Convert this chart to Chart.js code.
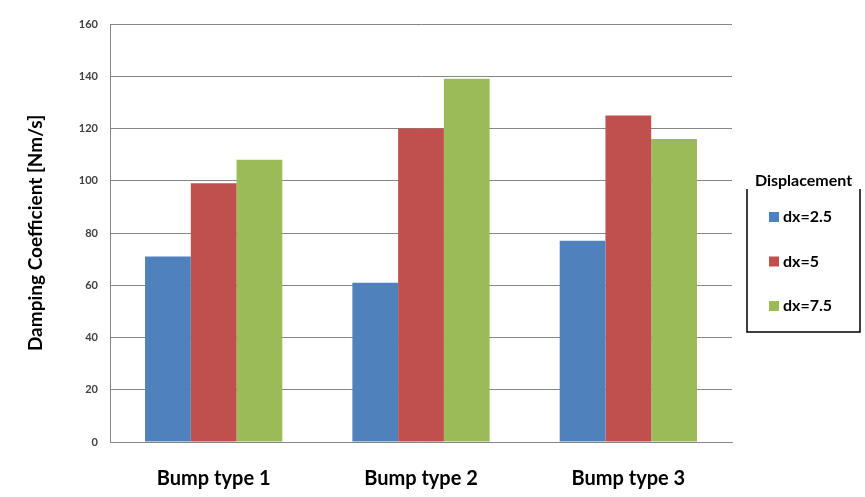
<!DOCTYPE html>
<html>
<head>
<meta charset="utf-8">
<script src="https://cdn.jsdelivr.net/npm/chart.js@4"></script>
<style>
  html, body { margin: 0; padding: 0; background: #fff; }
  #wrap { width: 865px; height: 497px; }
</style>
</head>
<body>
<div id="wrap"><canvas id="grafico" width="865" height="497"></canvas></div>
<script>
// data
const categorias = ["Bump type 1", "Bump type 2", "Bump type 3"];
const series = ["dx=2.5", "dx=5", "dx=7.5"];
const dx25 = [71, 61, 77];
const dx5 = [99, 120, 125];
const dx75 = [108, 139, 116];
const cores = ["#4F81BD", "#C0504D", "#9BBB59"];
const ticksY = [0, 20, 40, 60, 80, 100, 120, 140, 160];

const fonte = "Lato, 'Open Sans', sans-serif";

// legenda desenhada a mao, caixa aberta em cima com titulo
const legendaCaixa = {
    id: "legendaCaixa",
    afterDraw(chart) {
        const ctx = chart.ctx;
        const x0 = 747, y0 = 189, x1 = 860, y1 = 332;
        ctx.save();
        ctx.strokeStyle = "#000";
        ctx.lineWidth = 1.5;
        ctx.beginPath();
        ctx.moveTo(x0, y0);
        ctx.lineTo(x0, y1);
        ctx.lineTo(x1, y1);
        ctx.lineTo(x1, y0);
        ctx.stroke();
        ctx.font = "bold 16px " + fonte;
        ctx.textAlign = "center";
        ctx.textBaseline = "middle";
        ctx.fillStyle = "#000";
        ctx.fillText("Displacement", (x0 + x1) / 2, 181);
        ctx.textAlign = "left";
        chart.data.datasets.forEach((ds, i) => {
            const y = 217 + i * 44.5;
            ctx.fillStyle = ds.backgroundColor;
            ctx.fillRect(769, y - 5, 10, 10);
            ctx.fillStyle = "#000";
            ctx.fillText(ds.label, 783, y);
        });
        ctx.restore();
    }
};

new Chart(document.getElementById("grafico"), {
    type: "bar",
    data: {
        labels: categorias,
        datasets: [
            { label: series[0], data: dx25, backgroundColor: cores[0] },
            { label: series[1], data: dx5, backgroundColor: cores[1] },
            { label: series[2], data: dx75, backgroundColor: cores[2] }
        ]
    },
    options: {
        responsive: false,
        animation: false,
        layout: { padding: { left: 0, top: 24, right: 133, bottom: 0 } },
        datasets: { bar: { categoryPercentage: 0.662, barPercentage: 1.0 } },
        plugins: {
            legend: { display: false },
            tooltip: { enabled: false }
        },
        scales: {
            x: {
                grid: { display: false, drawTicks: false },
                border: { color: "#868686", width: 1 },
                ticks: { color: "#000", padding: 25, font: { family: fonte, size: 20, weight: "bold" } },
                afterFit(s) { s.height = 55; }
            },
            y: {
                min: 0,
                max: 160,
                afterBuildTicks(s) { s.ticks = ticksY.map(v => ({ value: v })); },
                grid: { color: "#868686", drawTicks: false },
                border: { color: "#868686", width: 1 },
                ticks: { color: "#404040", padding: 12, font: { family: fonte, size: 11, weight: "bold" } },
                title: {
                    display: true,
                    text: "Damping Coefficient [Nm/s]",
                    color: "#000",
                    padding: { top: 24, bottom: 0 },
                    font: { family: fonte, size: 19, weight: "bold" }
                },
                afterFit(s) { s.width = 110; }
            }
        }
    },
    plugins: [legendaCaixa]
});
</script>
</body>
</html>
